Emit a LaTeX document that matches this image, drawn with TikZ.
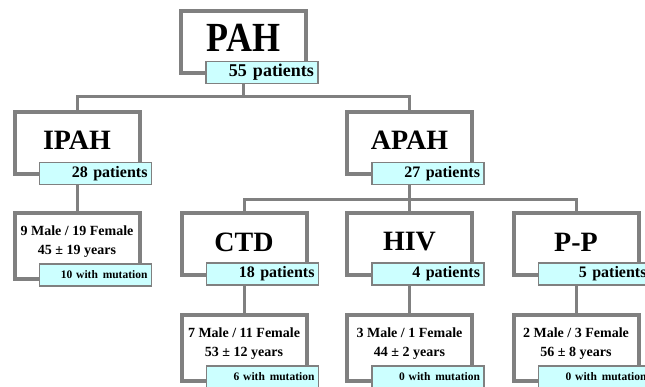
\documentclass[tikz,border=0pt]{standalone}
\usepackage{fontspec}
\setmainfont{Liberation Serif}
\usetikzlibrary{backgrounds}
\definecolor{framegray}{HTML}{808080}
\definecolor{tagcyan}{HTML}{CCFFFF}
\newcommand{\mutgap}{\hspace{0.42em}}
\tikzset{
  boxframe/.style={draw=framegray, line width=4pt, fill=white, minimum width=125pt,
    minimum height=62pt, inner sep=0pt, outer sep=0pt},
  detailframe/.style={boxframe, minimum height=66pt},
  countbox/.style={draw=framegray, line width=1.5pt, fill=tagcyan, minimum height=22pt,
    text width=104pt, inner xsep=4pt, inner ysep=0pt, outer sep=0pt, align=right,
    font=\bfseries\fontsize{16}{16}\selectfont},
  mutbox/.style={countbox, font=\bfseries\fontsize{11.5}{12}\selectfont},
  titletext/.style={inner sep=0pt, font=\bfseries\fontsize{28}{28}\selectfont},
  detailtext/.style={inner sep=0pt, align=center, font=\bfseries\fontsize{14}{19}\selectfont},
  link/.style={draw=framegray, line width=3pt}
}
\begin{document}
\begin{tikzpicture}[x=1pt, y=-1pt]
  \useasboundingbox (0,0) rectangle (645,387);

  % 顶层
  \node[boxframe] (pah) at (243.5,42.5) {};
  \node[countbox, font=\bfseries\fontsize{18}{18}\selectfont] (pahN) at ([xshift=18.5pt,yshift=1pt]pah.south) {55 patients};
  \node[titletext, font=\bfseries\fontsize{36}{36}\selectfont] (pahT) at ([yshift=5pt]pah.center) {\scalebox{1}[1.15]{PAH}};

  % 第二层
  \node[boxframe] (ipah) at (77,143.5) {};
  \node[countbox] (ipahN) at ([xshift=18.5pt,yshift=1pt]ipah.south) {28 patients};
  \node[titletext] (ipahT) at ([yshift=3pt]ipah.center) {IPAH};

  \node[boxframe] (apah) at (409.5,143.5) {};
  \node[countbox] (apahN) at ([xshift=18.5pt,yshift=1pt]apah.south) {27 patients};
  \node[titletext] (apahT) at ([yshift=3pt]apah.center) {APAH};

  % 第三层
  \node[detailframe] (ipahD) at (77,246) {};
  \node[mutbox] (ipahM) at ([xshift=18.5pt,yshift=4pt]ipahD.south) {10 with\mutgap mutation};
  \node[detailtext] (ipahL) at ([yshift=4pt]ipahD.center) {9 Male / 19 Female\\45 ± 19 years};

  \node[boxframe] (ctd) at (244,244) {};
  \node[countbox] (ctdN) at ([xshift=18.5pt,yshift=1pt]ctd.south) {18 patients};
  \node[titletext] (ctdT) at ([yshift=2pt]ctd.center) {CTD};

  \node[boxframe] (hiv) at (409.5,244) {};
  \node[countbox] (hivN) at ([xshift=18.5pt,yshift=1pt]hiv.south) {4 patients};
  \node[titletext] (hivT) at ([yshift=2pt]hiv.center) {HIV};

  \node[boxframe] (pp) at (576,244) {};
  \node[countbox] (ppN) at ([xshift=18.5pt,yshift=1pt]pp.south) {5 patients};
  \node[titletext] (ppT) at ([yshift=2pt]pp.center) {P-P};

  % 第四层
  \node[detailframe] (ctdD) at (244,348) {};
  \node[mutbox] (ctdM) at ([xshift=18.5pt,yshift=4pt]ctdD.south) {6 with\mutgap mutation};
  \node[detailtext] (ctdL) at ([yshift=4pt]ctdD.center) {7 Male / 11 Female\\53 ± 12 years};

  \node[detailframe] (hivD) at (409.5,348) {};
  \node[mutbox] (hivM) at ([xshift=18.5pt,yshift=4pt]hivD.south) {0 with\mutgap mutation};
  \node[detailtext] (hivL) at ([yshift=4pt]hivD.center) {3 Male / 1 Female\\44 ± 2 years};

  \node[detailframe] (ppD) at (576,348) {};
  \node[mutbox] (ppM) at ([xshift=18.5pt,yshift=4pt]ppD.south) {0 with\mutgap mutation};
  \node[detailtext] (ppL) at ([yshift=4pt]ppD.center) {2 Male / 3 Female\\56 ± 8 years};

  % 连线
  \coordinate (fork1) at (243.5,97);
  \coordinate (fork2) at (409.5,200);
  \begin{scope}[on background layer]
    \draw[link] (pah) -- (fork1) -| (ipah);
    \draw[link] (fork1) -| (apah);
    \draw[link] (ipah) -- (ipahD);
    \draw[link] (apah) -- (fork2) -| (ctd);
    \draw[link] (fork2) -| (pp);
    \draw[link] (fork2) -- (hiv);
    \draw[link] (ctd) -- (ctdD);
    \draw[link] (hiv) -- (hivD);
    \draw[link] (pp) -- (ppD);
  \end{scope}
\end{tikzpicture}
\end{document}
